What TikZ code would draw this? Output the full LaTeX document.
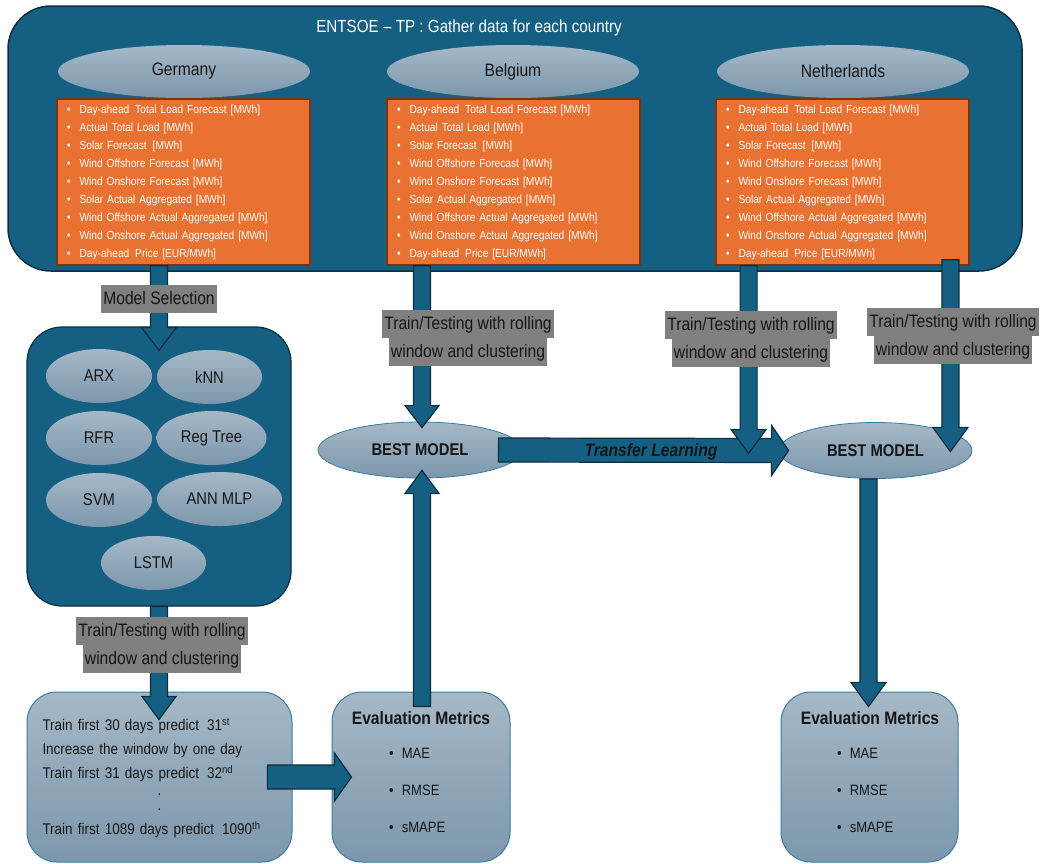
\documentclass[tikz,border=0pt]{standalone}
\usepackage{fontspec}
\setmainfont[FakeStretch=0.87]{Liberation Sans}
\usetikzlibrary{calc,positioning,shapes.geometric}

\definecolor{tealfill}{HTML}{156082}
\definecolor{tealedge}{HTML}{0B2E40}
\definecolor{orangefill}{HTML}{E97132}
\definecolor{orangeedge}{HTML}{7A3510}
\definecolor{ovaltop}{HTML}{A5B8C7}
\definecolor{ovalbot}{HTML}{7C97AC}
\definecolor{ovaledge}{HTML}{3B7CA0}
\definecolor{labelgray}{HTML}{808080}
\definecolor{ink}{HTML}{161616}

\setlength{\fboxsep}{0pt}
\newcommand{\hlrow}[1]{\colorbox{labelgray}{\strut\hspace{2pt}#1\hspace{2pt}}}
\newcommand{\featurelist}{%
  \textbullet\hspace{9pt}Day-ahead\hspace{2pt} Total Load Forecast [MWh]\\
  \textbullet\hspace{9pt}Actual Total Load [MWh]\\
  \textbullet\hspace{9pt}Solar Forecast\hspace{2pt} [MWh]\\
  \textbullet\hspace{9pt}Wind Offshore Forecast [MWh]\\
  \textbullet\hspace{9pt}Wind Onshore Forecast [MWh]\\
  \textbullet\hspace{9pt}Solar Actual Aggregated [MWh]\\
  \textbullet\hspace{9pt}Wind Offshore Actual Aggregated [MWh]\\
  \textbullet\hspace{9pt}Wind Onshore Actual Aggregated [MWh]\\
  \textbullet\hspace{9pt}Day-ahead\hspace{2pt} Price [EUR/MWh]}
% block arrow: start, end, shaft half width, head half width, head length
\newcommand{\blkarrow}[5]{%
  \draw[blkarr] ($(#1)!#3!90:(#2)$) -- ($(#2)!#5!(#1)!#3!90:(#2)$) -- ($(#2)!#5!(#1)!#4!90:(#2)$) -- (#2)
    -- ($(#2)!#5!(#1)!#4!-90:(#2)$) -- ($(#2)!#5!(#1)!#3!-90:(#2)$) -- ($(#1)!#3!-90:(#2)$) -- cycle;}

\tikzset{
  banner/.style={draw=tealedge, line width=1.5pt, fill=tealfill, rounded corners=43pt,
    minimum width=1014pt, minimum height=265pt},
  country/.style={ellipse, top color=ovaltop, bottom color=ovalbot, draw=none, text=ink,
    minimum width=252pt, minimum height=53pt, font=\fontsize{18}{22}\selectfont},
  databox/.style={draw=orangeedge, line width=1.5pt, fill=orangefill, text=white,
    minimum width=253pt, minimum height=166pt, text width=233pt, inner xsep=10pt,
    align=left, font=\fontsize{11.7}{18}\selectfont},
  modelbox/.style={draw=tealedge, line width=1.2pt, fill=tealfill, rounded corners=35pt,
    minimum width=264pt, minimum height=279pt},
  algo/.style={ellipse, top color=ovaltop, bottom color=ovalbot, draw=none, text=ink,
    inner sep=0pt, minimum height=54pt, font=\fontsize{17}{20}\selectfont},
  best/.style={ellipse, top color=ovaltop, bottom color=ovalbot, draw=ovaledge, line width=0.8pt,
    text=ink, inner sep=0pt, minimum height=56pt, font=\bfseries\fontsize{17}{20}\selectfont},
  procbox/.style={top color=ovaltop, bottom color=ovalbot, draw=ovaledge, line width=1pt,
    rounded corners=30pt, minimum height=170pt},
  hlabel/.style={align=center, inner sep=0pt, text=ink, font=\fontsize{18}{28}\selectfont},
  evalhead/.style={inner sep=0pt, text=ink, font=\bfseries\fontsize{18}{22}\selectfont},
  evallist/.style={inner sep=0pt, align=left, text=ink, anchor=west, font=\fontsize{15}{37}\selectfont},
  blkarr/.style={draw=tealedge, line width=1.2pt, fill=tealfill, line join=miter}
}

\begin{document}
\begin{tikzpicture}[x=1pt,y=-1pt]
\useasboundingbox (0,0) rectangle (1046,863);

% data sources
\node[banner] (entsoe) at (515,138.5) {};
\node[text=white, font=\fontsize{17.5}{22}\selectfont] (title) at (469,28) {ENTSOE – TP : Gather data for each country};

\node[country] (ger) at (184,71.5) {Germany};
\node[country] (bel) at (513,71.5) {Belgium};
\node[country] (ned) at (843,71.5) {Netherlands};

\node[databox] (gerdata) at (183.5,182) {\featurelist};
\node[databox] (beldata) at (513.5,182) {\featurelist};
\node[databox] (neddata) at (842.5,182) {\featurelist};

% candidate models
\node[modelbox] (models) at (159,466.5) {};
\node[algo, minimum width=106pt] (arx) at (99,376) {ARX};
\node[algo, minimum width=105pt] (knn) at (209.5,377) {kNN};
\node[algo, minimum width=106pt] (rfr) at (99,438) {RFR};
\node[algo, minimum width=110pt] (regtree) at (211.5,438) {Reg Tree};
\node[algo, minimum width=106pt] (svm) at (99,500) {SVM};
\node[algo, minimum width=125pt] (annmlp) at (219.5,499) {ANN MLP};
\node[algo, minimum width=105pt] (lstm) at (153.5,563) {LSTM};

\node[best, minimum width=204pt] (bestbel) at (420,450) {BEST MODEL};
\node[best, minimum width=193pt] (bestned) at (875.5,450.5) {BEST MODEL};

% bottom row
\node[procbox, minimum width=265pt] (rolling) at (159.5,777) {};
\node[procbox, minimum width=178pt] (evalbel) at (421,777) {};
\node[procbox, minimum width=177pt] (evalned) at (869.5,777) {};

\node[inner sep=0pt, text width=235pt, align=left, text=ink, font=\fontsize{15.5}{24}\selectfont] (rollingtxt) at (160,778) {%
  Train first 30 days predict\hspace{3pt} 31\textsuperscript{st}\\
  Increase the window by one day\\
  Train first 31 days predict\hspace{3pt} 32\textsuperscript{nd}\\[-7pt]
  \hspace*{115pt}.\\[-9pt]
  \hspace*{115pt}.\\
  Train first 1089 days predict\hspace{3pt} 1090\textsuperscript{th}};

\node[evalhead] (evalbelhead) at (421,718) {Evaluation Metrics};
\node[evallist] (evalbellist) at (389,790) {\textbullet\hspace{8pt}MAE\\\textbullet\hspace{8pt}RMSE\\\textbullet\hspace{8pt}sMAPE};
\node[evalhead] (evalnedhead) at (870,718) {Evaluation Metrics};
\node[evallist] (evalnedlist) at (837,790) {\textbullet\hspace{8pt}MAE\\\textbullet\hspace{8pt}RMSE\\\textbullet\hspace{8pt}sMAPE};

% arrow ends
\coordinate (gerout) at (gerdata.south -| models.north);
\coordinate (modtip) at ($(models.north)+(0,24)$);
\coordinate (belin) at ($(bestbel.north)+(2,6)$);
\coordinate (belout) at (beldata.south -| belin);
\coordinate (nedin1) at ($(bestned.west)+(-30,3)$);
\coordinate (nedout1) at (neddata.south -| nedin1);
\coordinate (nedin2) at ($(bestned.east)+(-22,1)$);
\coordinate (nedout2) at ($(neddata.south -| nedin2)+(0,-6)$);
\coordinate (tlstart) at ($(bestbel.east)+(-24,0)$);
\coordinate (tlend) at ($(bestned.west)+(10,0)$);
\coordinate (evalup) at ($(evalbel.north)+(1,15)$);
\coordinate (bestin) at ($(bestbel.south)+(2,-8)$);
\coordinate (evaldown) at ($(evalned.north)+(-1,15)$);
\coordinate (bestout) at (bestned.south -| evaldown);
\coordinate (rolltip) at ($(rolling.north)+(-0.5,28)$);
\coordinate (rollout) at ($(rolling.east)+(-25,0)$);
\coordinate (evalin) at ($(evalbel.west)+(20,0)$);

\blkarrow{gerout}{modtip}{8.5pt}{17.5pt}{23pt}
\blkarrow{belout}{belin}{8.5pt}{17pt}{22pt}
\blkarrow{tlstart}{tlend}{12pt}{25pt}{17pt}
\blkarrow{nedout1}{nedin1}{8.5pt}{17.5pt}{24pt}
\blkarrow{nedout2}{nedin2}{8.5pt}{17.5pt}{24pt}
\blkarrow{evalup}{bestin}{8.5pt}{17pt}{23pt}
\blkarrow{bestout}{evaldown}{8.5pt}{17.5pt}{24pt}
\blkarrow{models.south}{rolltip}{8.5pt}{17pt}{23pt}
\blkarrow{rollout}{evalin}{12pt}{24pt}{17pt}

\node[text=ink, font=\bfseries\itshape\fontsize{18}{22}\selectfont] (tltext) at (651,452) {Transfer Learning};

% labels on the arrows
\node[hlabel] (selection) at (159,298.5) {\hlrow{Model Selection}};
\node[hlabel] (lblbel) at (468,338) {\hlrow{Train/Testing with rolling}\\\hlrow{window and clustering}};
\node[hlabel] (lblned1) at (751,338.5) {\hlrow{Train/Testing with rolling}\\\hlrow{window and clustering}};
\node[hlabel] (lblned2) at (953,336) {\hlrow{Train/Testing with rolling}\\\hlrow{window and clustering}};
\node[hlabel] (lblger) at (162,645) {\hlrow{Train/Testing with rolling}\\\hlrow{window and clustering}};
\end{tikzpicture}
\end{document}
